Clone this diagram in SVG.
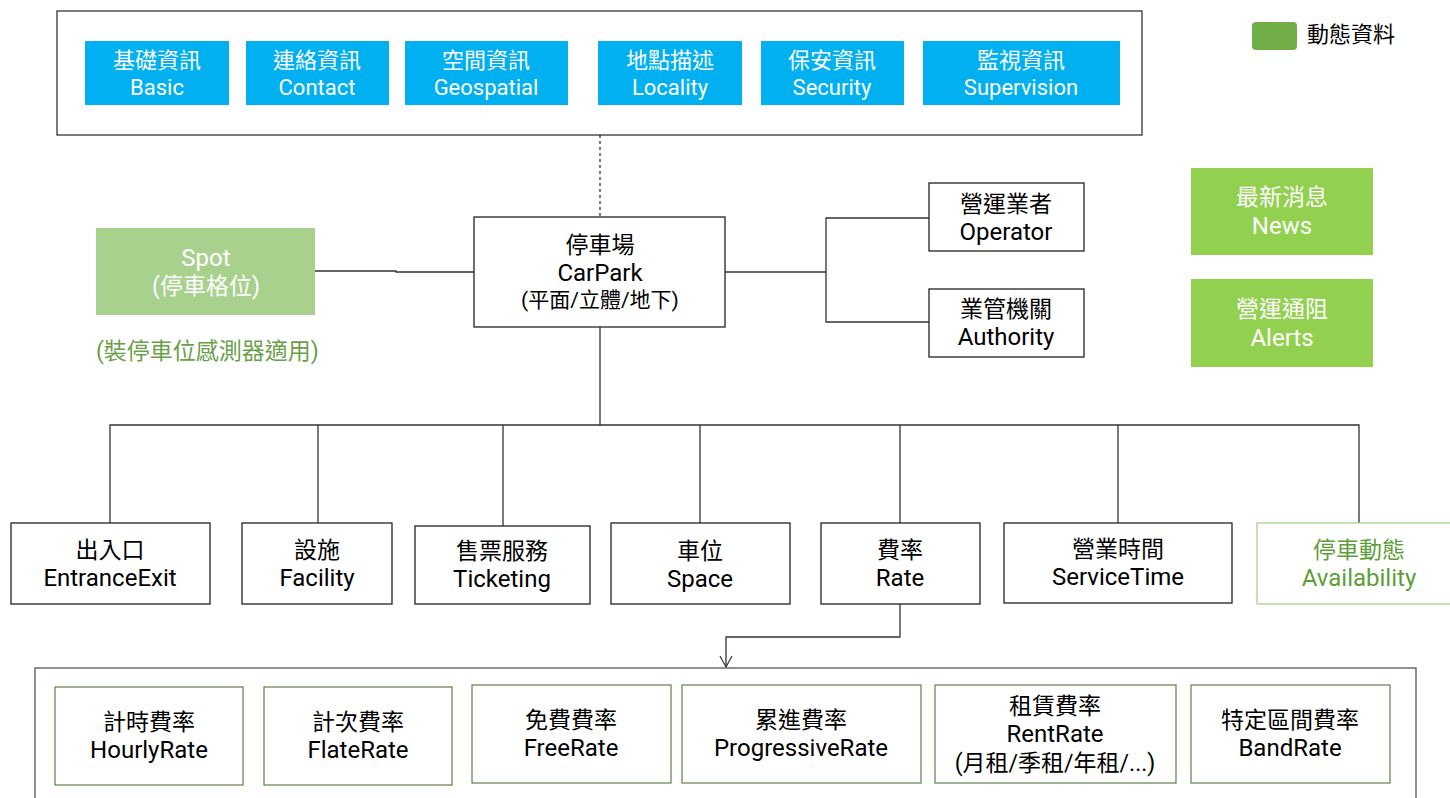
<svg xmlns="http://www.w3.org/2000/svg" width="1450" height="798" viewBox="0 0 1450 798">
<defs>
<style>
text{font-family:Roboto,"Noto Sans CJK TC",sans-serif;text-anchor:middle;dominant-baseline:central;}
.t{font-size:23px;fill:#000;}
.e{font-size:24px;fill:#000;}
.w{font-size:23px;fill:#fff;}
.we{font-size:24px;fill:#fff;}
.b{font-size:22px;fill:#fff;}
.g{font-size:23px;fill:#5E9E3A;}
.ge{font-size:24px;fill:#5E9E3A;}
.box{fill:#fff;stroke:#222;stroke-width:1.3;}
.blue{fill:#00B0F0;}
.lg{fill:#92D050;}
.spot{fill:#A9D18E;}
.rbox{fill:#fff;stroke:#5F7F4A;stroke-width:1.2;}
.ln{fill:none;stroke:#333;stroke-width:1.3;}
</style>
<marker id="arr" markerWidth="14" markerHeight="14" refX="12" refY="7" orient="auto" markerUnits="userSpaceOnUse">
<path d="M1,1 L12,7 L1,13" fill="none" stroke="#333" stroke-width="1.2"/>
</marker>
</defs>
<rect width="1450" height="798" fill="#fff"/>

<g id="connectors">
<line class="ln" x1="600" y1="135" x2="600" y2="217" stroke-dasharray="3,3"/>
<polyline class="ln" points="315,271 396,271 396,272 474,272"/>
<polyline class="ln" points="725,272 826,272"/>
<polyline class="ln" points="929,218 826,218 826,322 929,322"/>
<line class="ln" x1="600" y1="327" x2="600" y2="425"/>
<polyline class="ln" points="110,523 110,425 1359,425 1359,523"/>
<line class="ln" x1="318" y1="425" x2="318" y2="523"/>
<line class="ln" x1="503" y1="425" x2="503" y2="526"/>
<line class="ln" x1="700" y1="425" x2="700" y2="523"/>
<line class="ln" x1="900" y1="425" x2="900" y2="523"/>
<line class="ln" x1="1118" y1="425" x2="1118" y2="523"/>
<polyline class="ln" points="900,604 900,637 726,637 726,667" marker-end="url(#arr)"/>
</g>

<g id="top-container">
<rect x="57" y="11" width="1085" height="124" fill="#fff" stroke="#333" stroke-width="1.3"/>
</g>
<g id="basic"><rect class="blue" x="85" y="41" width="144" height="64"/><text class="b" x="157" y="60">基礎資訊</text><text class="b" x="157" y="87">Basic</text></g>
<g id="contact"><rect class="blue" x="246" y="41" width="143" height="64"/><text class="b" x="317" y="60">連絡資訊</text><text class="b" x="317" y="87">Contact</text></g>
<g id="geospatial"><rect class="blue" x="405" y="41" width="163" height="64"/><text class="b" x="486" y="60">空間資訊</text><text class="b" x="486" y="87">Geospatial</text></g>
<g id="locality"><rect class="blue" x="598" y="41" width="144" height="64"/><text class="b" x="670" y="60">地點描述</text><text class="b" x="670" y="87">Locality</text></g>
<g id="security"><rect class="blue" x="761" y="41" width="143" height="64"/><text class="b" x="832" y="60">保安資訊</text><text class="b" x="832" y="87">Security</text></g>
<g id="supervision"><rect class="blue" x="923" y="41" width="197" height="64"/><text class="b" x="1021" y="60">監視資訊</text><text class="b" x="1021" y="87">Supervision</text></g>

<g id="legend"><rect x="1252" y="22" width="45" height="28" rx="4" fill="#70AD47"/><text x="1307" y="34" style="text-anchor:start;font-size:22px;fill:#000">動態資料</text></g>

<g id="carpark"><rect class="box" x="474" y="217" width="251" height="110"/><text class="t" x="600" y="245">停車場</text><text class="e" x="600" y="273">CarPark</text><text x="600" y="300" style="font-size:21px">(平面/立體/地下)</text></g>

<g id="spot"><rect class="spot" x="96" y="228" width="219" height="87"/><text class="we" x="206" y="258">Spot</text><text class="w" x="206" y="286">(停車格位)</text></g>
<g id="spot-note"><text x="96" y="351" style="text-anchor:start;font-size:23px;fill:#6A9F4A">(裝停車位感測器適用)</text></g>

<g id="operator"><rect class="box" x="929" y="183" width="155" height="68"/><text class="t" x="1006" y="204">營運業者</text><text class="e" x="1006" y="232">Operator</text></g>
<g id="authority"><rect class="box" x="929" y="289" width="155" height="68"/><text class="t" x="1006" y="309">業管機關</text><text class="e" x="1006" y="337">Authority</text></g>

<g id="news"><rect class="lg" x="1191" y="168" width="182" height="87"/><text class="w" x="1282" y="197">最新消息</text><text class="we" x="1282" y="226">News</text></g>
<g id="alerts"><rect class="lg" x="1191" y="279" width="182" height="88"/><text class="w" x="1282" y="309">營運通阻</text><text class="we" x="1282" y="338">Alerts</text></g>

<g id="entranceexit"><rect class="box" x="11" y="523" width="199" height="81"/><text class="t" x="110" y="550">出入口</text><text class="e" x="110" y="578">EntranceExit</text></g>
<g id="facility"><rect class="box" x="242" y="523" width="150" height="81"/><text class="t" x="317" y="550">設施</text><text class="e" x="317" y="578">Facility</text></g>
<g id="ticketing"><rect class="box" x="415" y="526" width="175" height="78"/><text class="t" x="502" y="551">售票服務</text><text class="e" x="502" y="579">Ticketing</text></g>
<g id="space"><rect class="box" x="611" y="523" width="179" height="81"/><text class="t" x="700" y="551">車位</text><text class="e" x="700" y="579">Space</text></g>
<g id="rate"><rect class="box" x="821" y="523" width="159" height="81"/><text class="t" x="900" y="550">費率</text><text class="e" x="900" y="578">Rate</text></g>
<g id="servicetime"><rect class="box" x="1004" y="523" width="228" height="80"/><text class="t" x="1118" y="549">營業時間</text><text class="e" x="1118" y="577">ServiceTime</text></g>
<g id="availability"><rect x="1257" y="523" width="200" height="81" fill="#fff" stroke="#A9D18E" stroke-width="1.3"/><text class="g" x="1359" y="550">停車動態</text><text class="ge" x="1359" y="578">Availability</text></g>

<g id="rate-container"><rect x="35" y="668" width="1381" height="140" fill="none" stroke="#555" stroke-width="1.3"/></g>
<g id="hourlyrate"><rect class="rbox" x="55" y="687" width="188" height="98"/><text class="t" x="149" y="722">計時費率</text><text class="e" x="149" y="750">HourlyRate</text></g>
<g id="flaterate"><rect class="rbox" x="264" y="687" width="188" height="98"/><text class="t" x="358" y="722">計次費率</text><text class="e" x="358" y="750">FlateRate</text></g>
<g id="freerate"><rect class="rbox" x="472" y="685" width="199" height="98"/><text class="t" x="571" y="720">免費費率</text><text class="e" x="571" y="748">FreeRate</text></g>
<g id="progressiverate"><rect class="rbox" x="682" y="685" width="239" height="98"/><text class="t" x="801" y="720">累進費率</text><text class="e" x="801" y="748">ProgressiveRate</text></g>
<g id="rentrate"><rect class="rbox" x="935" y="685" width="241" height="98"/><text class="t" x="1055" y="706">租賃費率</text><text class="e" x="1055" y="734">RentRate</text><text class="t" x="1055" y="763">(月租/季租/年租/...)</text></g>
<g id="bandrate"><rect class="rbox" x="1191" y="685" width="199" height="98"/><text class="t" x="1290" y="720">特定區間費率</text><text class="e" x="1290" y="748">BandRate</text></g>
</svg>
